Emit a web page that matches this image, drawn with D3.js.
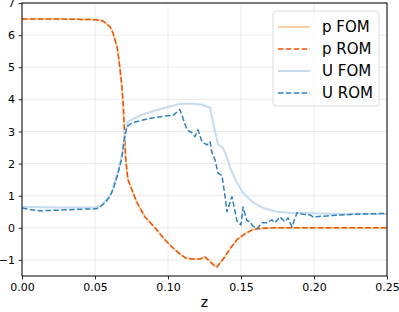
<!DOCTYPE html>
<html>
<head>
<meta charset="utf-8">
<script src="https://cdn.jsdelivr.net/npm/d3@7"></script>
<style>
  body { margin: 0; background: #fff; }
  svg { display: block; font-family: 'DejaVu Sans', sans-serif; }
</style>
</head>
<body>
<div id="chart"></div>
<script>
// pressure: FOM and ROM on the same z grid
const zP = [0, 0.026, 0.0507, 0.0555, 0.0603, 0.0623, 0.0651, 0.0664, 0.0671, 0.0682, 0.0692,
  0.0702, 0.0709, 0.0719, 0.0726, 0.0753, 0.0788, 0.0842, 0.0911, 0.0979, 0.1048, 0.1116,
  0.1164, 0.1219, 0.1253, 0.1288, 0.1322, 0.1336, 0.1363, 0.139, 0.1425, 0.1473, 0.1507,
  0.1541, 0.1575, 0.161, 0.1664, 0.1733, 0.25];
const pFom = [6.5, 6.5, 6.48, 6.44, 6.26, 6.07, 5.64, 5.23, 4.95, 4.5, 3.95,
  3.0, 2.2, 1.75, 1.5, 1.18, 0.78, 0.34, 0.0, -0.37, -0.69, -0.93,
  -0.97, -0.97, -0.92, -1.02, -1.17, -1.2, -1.05, -0.9, -0.65, -0.37, -0.25,
  -0.15, -0.07, -0.03, -0.01, 0.0, 0.0];
const pRom = [6.5, 6.5, 6.48, 6.44, 6.26, 6.07, 5.64, 5.23, 4.95, 4.5, 3.95,
  3.0, 2.2, 1.75, 1.5, 1.18, 0.78, 0.34, 0.0, -0.37, -0.69, -0.93,
  -0.97, -0.97, -0.9, -1.06, -1.2, -1.22, -1.05, -0.9, -0.65, -0.37, -0.25,
  -0.15, -0.07, -0.03, -0.01, 0.0, 0.0];

// velocity, full order model
const zUfom = [0, 0.0123, 0.026, 0.0507, 0.0534, 0.0568, 0.0603, 0.0623, 0.0658, 0.0685, 0.0705,
  0.0726, 0.0774, 0.0822, 0.089, 0.0979, 0.1034, 0.1082, 0.1171, 0.1233, 0.1288, 0.1308,
  0.1342, 0.1377, 0.1411, 0.1425, 0.1473, 0.1514, 0.1575, 0.1651, 0.1747, 0.1836, 0.1904,
  0.213, 0.25];
const uFom = [0.66, 0.64, 0.63, 0.63, 0.68, 0.82, 1.02, 1.22, 1.75, 2.3, 2.9,
  3.3, 3.42, 3.52, 3.62, 3.74, 3.8, 3.86, 3.86, 3.83, 3.74, 3.3,
  2.6, 2.48, 2.12, 1.87, 1.4, 1.09, 0.81, 0.62, 0.5, 0.47, 0.46,
  0.44, 0.43];

// velocity, reduced order model
const zUrom = [0, 0.0055, 0.0123, 0.026, 0.0397, 0.0507, 0.0534, 0.0568, 0.0603, 0.0623, 0.0658,
  0.0685, 0.0699, 0.0719, 0.0753, 0.0822, 0.089, 0.0979, 0.1034, 0.1082, 0.113, 0.1164,
  0.1185, 0.1205, 0.1233, 0.1267, 0.1288, 0.1301, 0.1322, 0.1342, 0.137, 0.139, 0.1404,
  0.1438, 0.1473, 0.15, 0.1514, 0.1541, 0.1562, 0.1582, 0.161, 0.1644, 0.1678, 0.1712,
  0.1733, 0.1767, 0.1801, 0.1822, 0.1849, 0.1884, 0.1925, 0.1973, 0.1993, 0.2089, 0.2178,
  0.2315, 0.25];
const uRom = [0.62, 0.57, 0.53, 0.55, 0.58, 0.59, 0.65, 0.78, 0.98, 1.18, 1.7,
  2.2, 2.74, 3.15, 3.27, 3.35, 3.42, 3.48, 3.5, 3.68, 3.05, 2.96,
  2.84, 3.05, 2.68, 2.58, 2.68, 2.34, 2.12, 1.71, 1.62, 1.0, 0.5,
  0.97, 0.2, 0.09, 0.65, 0.22, 0.19, 0.05, -0.03, 0.16, 0.16, 0.25,
  0.16, 0.34, 0.19, 0.31, 0.03, 0.47, 0.42, 0.4, 0.34, 0.37, 0.4,
  0.43, 0.45];

const xTicks = [0, 0.05, 0.1, 0.15, 0.2, 0.25];
const yTicks = [-1, 0, 1, 2, 3, 4, 5, 6, 7];

const series = [
  { name: 'p FOM', z: zP, v: pFom, color: '#fdd0a2', width: 2, dash: null },
  { name: 'p ROM', z: zP, v: pRom, color: '#e6550d', width: 1.5, dash: '5.5,2.4' },
  { name: 'U FOM', z: zUfom, v: uFom, color: '#c6dbef', width: 2, dash: null },
  { name: 'U ROM', z: zUrom, v: uRom, color: '#3182bd', width: 1.5, dash: '5.5,2.4' },
];

const W = 399, H = 312;
const margin = { top: 3, right: 12, bottom: 36, left: 22 };
const width = W - margin.left - margin.right;
const height = H - margin.top - margin.bottom;

const svg = d3.select('#chart').append('svg')
  .attr('width', W).attr('height', H);

const g = svg.append('g')
  .attr('transform', `translate(${margin.left},${margin.top})`);

const x = d3.scaleLinear().domain([0, 0.25]).range([0, width]);
const y = d3.scaleLinear().domain([-1.5, 7]).range([height, 0]);

// grid
g.append('g').selectAll('line').data(xTicks).join('line')
  .attr('x1', (d) => x(d)).attr('x2', (d) => x(d))
  .attr('y1', 0).attr('y2', height)
  .attr('stroke', '#e6e6e6').attr('stroke-width', 0.8);
g.append('g').selectAll('line').data(yTicks).join('line')
  .attr('x1', 0).attr('x2', width)
  .attr('y1', (d) => y(d)).attr('y2', (d) => y(d))
  .attr('stroke', '#e6e6e6').attr('stroke-width', 0.8);

// curves
const line = d3.line().x((d) => x(d[0])).y((d) => y(d[1]));
g.append('defs').append('clipPath').attr('id', 'clip')
  .append('rect').attr('width', width).attr('height', height);

series.forEach((s) => {
  g.append('path')
    .datum(s.z.map((z, i) => [z, s.v[i]]))
    .attr('clip-path', 'url(#clip)')
    .attr('fill', 'none')
    .attr('stroke', s.color)
    .attr('stroke-width', s.width)
    .attr('stroke-dasharray', s.dash)
    .attr('stroke-linejoin', 'round')
    .attr('d', line);
});

// axes
const fmtY = (d) => (d < 0 ? '\u2212' + Math.abs(d) : String(d));
const xAxis = g.append('g')
  .attr('transform', `translate(0,${height})`)
  .call(d3.axisBottom(x).tickValues(xTicks).tickFormat(d3.format('.2f'))
    .tickSizeInner(3.5).tickSizeOuter(0).tickPadding(3.5));
const yAxis = g.append('g')
  .call(d3.axisLeft(y).tickValues(yTicks).tickFormat(fmtY)
    .tickSizeInner(3.5).tickSizeOuter(0).tickPadding(3.5));

[xAxis, yAxis].forEach((a) => {
  a.select('.domain').remove();
  a.selectAll('text').attr('font-size', 11).attr('fill', '#000')
    .attr('font-family', "'DejaVu Sans', sans-serif");
  a.selectAll('line').attr('stroke', '#000').attr('stroke-width', 0.8);
});

// frame
g.append('rect')
  .attr('width', width).attr('height', height)
  .attr('fill', 'none').attr('stroke', '#000').attr('stroke-width', 1);

g.append('text')
  .attr('x', width / 2).attr('y', height + 31)
  .attr('text-anchor', 'middle')
  .attr('font-size', 14)
  .text('z');

// legend
const legend = g.append('g').attr('transform', `translate(${251},${8})`);
legend.append('rect')
  .attr('width', 106).attr('height', 95)
  .attr('rx', 3)
  .attr('fill', 'rgba(255,255,255,0.8)')
  .attr('stroke', '#d0d0d0').attr('stroke-width', 0.8);

series.forEach((s, i) => {
  const ly = 16 + i * 22;
  legend.append('line')
    .attr('x1', 5).attr('x2', 37)
    .attr('y1', ly).attr('y2', ly)
    .attr('stroke', s.color)
    .attr('stroke-width', s.width)
    .attr('stroke-dasharray', s.dash);
  legend.append('text')
    .attr('x', 49).attr('y', ly)
    .attr('dy', '0.35em')
    .attr('font-size', 15)
    .text(s.name);
});
</script>
</body>
</html>
